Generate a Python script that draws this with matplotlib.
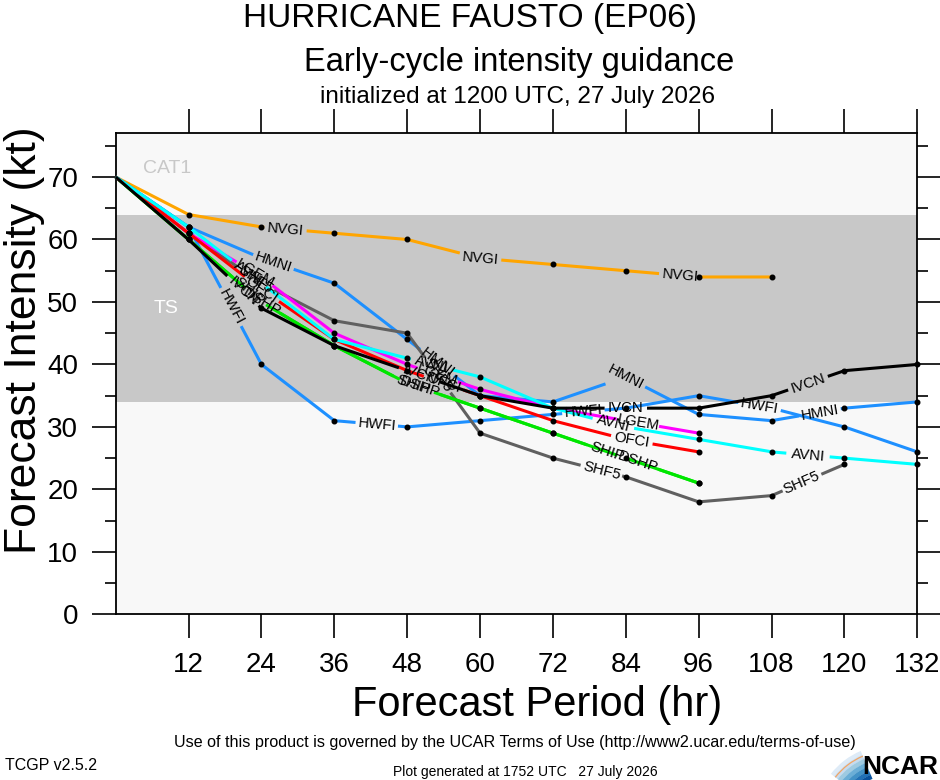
import numpy as np
import matplotlib
matplotlib.use("Agg")
import matplotlib.pyplot as plt
import matplotlib.patches as mpatches

# forecast hours and model intensities (kt)
hours = [0, 12, 24, 36, 48, 60, 72, 84, 96, 108, 120, 132]

nvgi = [70, 64, 62, 61, 60, 57, 56, 55, 54, 54]
hmni = [70, 62, 57, 53, 44, 35, 34, 38, 32, 31, 33, 34]
hwfi = [70, 62, 40, 31, 30, 31, 32, 33, 35, 33, 30, 26]
shf5 = [70, 61, 53, 47, 45, 29, 25, 22, 18, 19, 24]
dshp = [70, 60, 50, 43, 37, 33, 29, 25, 21]
ship = [70, 60, 50, 43, 37, 33, 29, 25, 21]
lgem = [70, 61, 54, 45, 40, 36, 33, 31, 29]
ofci = [70, 61, 52, 44, 39, 35, 31, 28, 26]
avni = [70, 62, 53, 44, 41, 38, 33, 30, 28, 26, 25, 24]
ivcn = [70, 60, 49, 43, 39, 35, 33, 33, 33, 35, 39, 40]

models = ["NVGI", "HMNI", "HWFI", "SHF5", "DSHP", "SHIP", "LGEM", "OFCI", "AVNI", "IVCN"]
values = [nvgi, hmni, hwfi, shf5, dshp, ship, lgem, ofci, avni, ivcn]
colors = ["#ffa500", "#1e90ff", "#1e90ff", "#606060", "#00e600", "#00e600",
          "#ff00ff", "#ff0000", "#00ffff", "#000000"]

# where the model names sit along each line (forecast hour)
label_at = {
    "NVGI": [28, 60, 93],
    "HMNI": [26, 53, 84, 116],
    "HWFI": [19, 43, 77, 106],
    "SHF5": [23, 53, 80, 113],
    "DSHP": [24, 50, 86],
    "SHIP": [22, 49, 81],
    "LGEM": [23, 53, 86],
    "OFCI": [24, 54, 85],
    "AVNI": [22, 52, 82, 114],
    "IVCN": [21, 50, 84, 114],
}

plt.rcParams["font.family"] = ["Liberation Sans", "DejaVu Sans"]

W, H = 940, 780
fig = plt.figure(figsize=(W / 100, H / 100), dpi=100, facecolor="white")
ax = fig.add_axes([115.7 / W, (H - 614.3) / H, (917.3 - 115.7) / W, (614.3 - 133.3) / H])
ax.set_xlim(0, 132)
ax.set_ylim(0, 77)

# intensity category shading
ax.axhspan(0, 34, color="#f8f8f8", zorder=0, lw=0)
ax.axhspan(34, 64, color="#c8c8c8", zorder=0, lw=0)
ax.axhspan(64, 77, color="#f8f8f8", zorder=0, lw=0)
ax.text(8.5, 71.4, "CAT1", color="#c8c8c8", fontsize=14, ha="center", va="center")
ax.text(8.3, 49.0, "TS", color="white", fontsize=14, ha="center", va="center")

ax.set_xticks(np.arange(12, 133, 12))
ax.set_yticks(np.arange(0, 71, 10))
ax.set_yticks(np.arange(5, 77, 10), minor=True)
ax.tick_params(which="major", direction="out", length=17, width=1.2, labelsize=20,
               top=True, right=True)
ax.tick_params(which="minor", direction="out", length=8, width=1.2, left=True, right=True)
ax.tick_params(axis="y", pad=10)
ax.tick_params(axis="x", pad=10)
for s in ax.spines.values():
    s.set_linewidth(1.3)

fs_lab = 10.8


def draw_model(name, vals, color):
    hrs = np.array(hours[:len(vals)], dtype=float)
    v = np.array(vals, dtype=float)
    tr = ax.transData
    # label centres and angles in pixel space
    centres = []
    for h in label_at[name]:
        yv = np.interp(h, hrs, v)
        i = min(np.searchsorted(hrs, h, side="right") - 1, len(hrs) - 2)
        p0 = tr.transform((hrs[i], v[i]))
        p1 = tr.transform((hrs[i + 1], v[i + 1]))
        ang = np.degrees(np.arctan2(p1[1] - p0[1], p1[0] - p0[0]))
        c = tr.transform((h, yv))
        centres.append(c)
        ax.text(h, yv, name, fontsize=fs_lab, rotation=ang, rotation_mode="anchor",
                ha="center", va="center", color="black", zorder=6)
    r = 0.5 * len(name) * 0.63 * fs_lab * 100 / 72 + 2
    # break the line where a label sits
    xs, ys = [], []
    for i in range(len(hrs) - 1):
        t = np.linspace(0, 1, 80)
        xs.append(hrs[i] + t * (hrs[i + 1] - hrs[i]))
        ys.append(v[i] + t * (v[i + 1] - v[i]))
    xs = np.concatenate(xs)
    ys = np.concatenate(ys)
    pix = tr.transform(np.column_stack([xs, ys]))
    mask = np.zeros(len(xs), dtype=bool)
    for c in centres:
        mask |= np.hypot(pix[:, 0] - c[0], pix[:, 1] - c[1]) < r
    ys = np.where(mask, np.nan, ys)
    ax.plot(xs, ys, color=color, lw=2.2, zorder=3, solid_capstyle="butt", clip_on=False)
    vp = tr.transform(np.column_stack([hrs, v]))
    keep = hrs > 0
    for c in centres:
        keep &= np.hypot(vp[:, 0] - c[0], vp[:, 1] - c[1]) > r - 3
    ax.plot(hrs[keep], v[keep], "o", color="black", ms=3.3, zorder=5, clip_on=False)


for name, vals, col in zip(models, values, colors):
    draw_model(name, vals, col)

# titles and axis labels
fig.text(0.5, 1 - 18 / H, "HURRICANE FAUSTO (EP06)", fontsize=24, ha="center", va="center")
fig.text(519 / W, 1 - 62 / H, "Early-cycle intensity guidance", fontsize=23.5, ha="center", va="center")
fig.text(517 / W, 1 - 97 / H, "initialized at 1200 UTC, 27 July 2026", fontsize=17.5, ha="center", va="center")
fig.text(25 / W, 1 - 340 / H, "Forecast Intensity (kt)", fontsize=32, rotation=90, ha="center", va="center")
fig.text(537 / W, 1 - 705 / H, "Forecast Period (hr)", fontsize=30, ha="center", va="center")

# footer
fig.text(515 / W, 1 - 742 / H, "Use of this product is governed by the UCAR Terms of Use (http://www2.ucar.edu/terms-of-use)",
         fontsize=11.6, ha="center", va="center")
fig.text(5 / W, 1 - 765 / H, "TCGP v2.5.2", fontsize=11.5, ha="left", va="center")
fig.text(525 / W, 1 - 772 / H, "Plot generated at 1752 UTC   27 July 2026", fontsize=10,
         ha="center", va="center")

# NCAR logo: blue swoosh (in inches from the lower-left corner) plus lettering
blues = ["#deebf7", "#c6dbef", "#9ecae1", "#6baed6", "#4292c6", "#2171b5", "#08519c"]
centre = (8.90, -0.40)
for k, col in enumerate(blues):
    rr = 0.75 - k * 0.043
    fig.patches.append(mpatches.Wedge(centre, rr, 113, 142, width=0.045,
                                      transform=fig.dpi_scale_trans, color=col, lw=0))
fig.patches.append(mpatches.Wedge(centre, 0.70, 113, 142, width=0.012,
                                  transform=fig.dpi_scale_trans, color="#f4a460", lw=0))
fig.text(938 / W, 1 - 767 / H, "NCAR", fontsize=19, weight="bold", ha="right", va="center")

fig.savefig("out.png", dpi=100, facecolor="white")
